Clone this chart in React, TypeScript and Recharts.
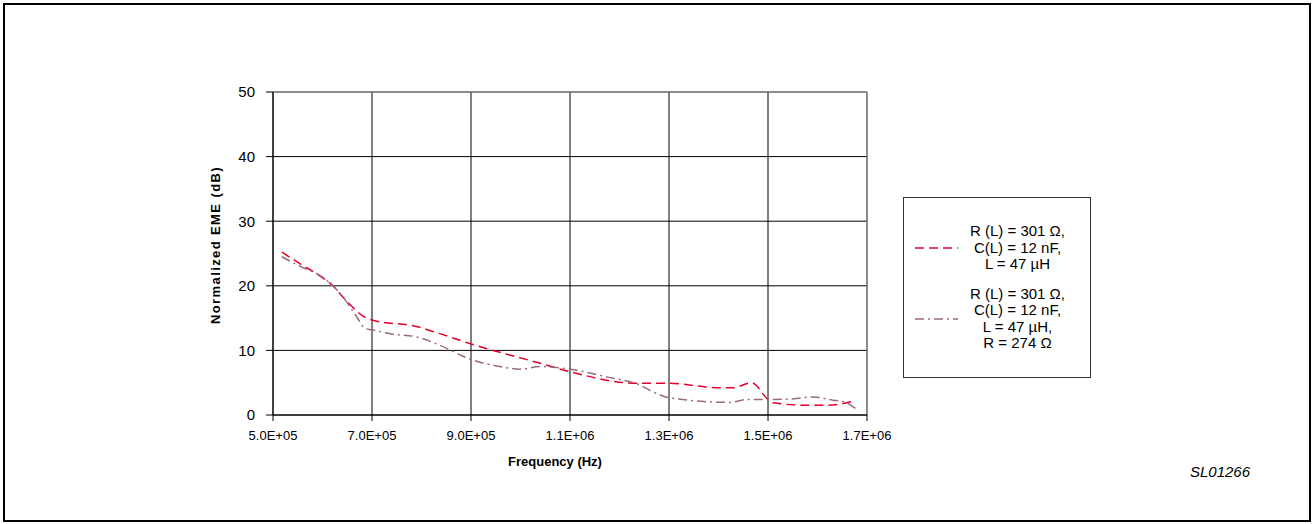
import React from "react";
import {
  CartesianGrid,
  Line,
  LineChart,
  ReferenceLine,
  XAxis,
  YAxis,
} from "recharts";

const FONT = "Arial, 'Liberation Sans', sans-serif";

const xTicks = [500000, 700000, 900000, 1100000, 1300000, 1500000, 1700000];
const yTicks = [0, 10, 20, 30, 40, 50];

// R(L)=301 ohm, C(L)=12 nF, L=47 uH
const freqA = [
  518000, 555000, 599000, 621000, 635000, 662000, 682000, 700000, 790000, 837000,
  900000, 1040000, 1100000, 1235000, 1298000, 1403000, 1429000, 1467000, 1500000,
  1510000, 1578000, 1620000, 1676000,
];
const emeA = [
  25.2, 23.4, 21.3, 20.0, 18.8, 16.6, 15.3, 14.7, 13.7, 12.6, 11.0, 8.0, 6.7, 4.9,
  4.9, 4.2, 4.2, 5.0, 2.4, 1.9, 1.5, 1.5, 2.2,
];

// same + R = 274 ohm
const freqB = [
  518000, 555000, 599000, 621000, 641000, 669000, 686000, 699000, 742000, 783000,
  837000, 878000, 900000, 952000, 999000, 1039000, 1100000, 1174000, 1235000,
  1282000, 1298000, 1423000, 1457000, 1500000, 1551000, 1591000, 1631000, 1651000,
  1681000,
];
const emeB = [
  24.5, 23.0, 21.4, 20.0, 18.3, 15.2, 13.4, 13.2, 12.5, 12.2, 10.8, 9.3, 8.6, 7.6,
  7.1, 7.5, 7.1, 5.9, 4.8, 3.1, 2.7, 1.95, 2.4, 2.4, 2.5, 2.8, 2.3, 2.1, 0.8,
];

const legendA = ["R (L) = 301 Ω,", "C(L) = 12 nF,", "L = 47 µH"];
const legendB = ["R (L) = 301 Ω,", "C(L) = 12 nF,", "L = 47 µH,", "R = 274 Ω"];

const RED = "#e3002a";
const MAUVE = "#9a6b7d";

const seriesA = freqA.map((f, i) => ({ f, v: emeA[i] }));
const seriesB = freqB.map((f, i) => ({ f, v: emeB[i] }));

function sci(v: number) {
  const e = Math.floor(Math.log10(v) + 1e-9);
  const m = (v / Math.pow(10, e)).toFixed(1);
  return `${m}E+${String(e).padStart(2, "0")}`;
}

function LegendBox() {
  const row = (lines: string[], color: string, dash: string) => (
    <div style={{ display: "flex", alignItems: "center", marginBottom: 13 }}>
      <svg width={50} height={10} style={{ marginLeft: 8 }}>
        <line x1={3} y1={5} x2={46} y2={5} stroke={color} strokeWidth={1.5} strokeDasharray={dash} />
      </svg>
      <div style={{ marginLeft: 8, textAlign: "center", lineHeight: "16.5px" }}>
        {lines.map((t) => (
          <div key={t}>{t}</div>
        ))}
      </div>
    </div>
  );
  return (
    <div
      style={{
        position: "absolute",
        left: 903,
        top: 197,
        width: 188,
        height: 181,
        border: "1px solid #333",
        boxSizing: "border-box",
        fontFamily: FONT,
        fontSize: 15,
        color: "#000",
        paddingTop: 25,
      }}
    >
      {row(legendA, RED, "9 5")}
      {row(legendB, MAUVE, "9 4 2 4")}
    </div>
  );
}

export default function App() {
  return (
    <div style={{ position: "absolute", left: 0, top: 0, width: 1313, height: 524, background: "#fff" }}>
      <div
        style={{
          position: "absolute",
          left: 3,
          top: 3,
          width: 1308,
          height: 519,
          border: "2px solid #000",
          boxSizing: "border-box",
        }}
      />
      <div style={{ position: "absolute", left: 0, top: 0 }}>
        <LineChart
          width={1313}
          height={524}
          margin={{ top: 92, right: 446, bottom: 79, left: 213 }}
          style={{ fontFamily: FONT }}
        >
          <CartesianGrid stroke="#000" strokeWidth={1} />
          <XAxis
            dataKey="f"
            type="number"
            domain={[500000, 1700000]}
            ticks={xTicks}
            tickFormatter={sci}
            allowDuplicatedCategory={false}
            height={30}
            stroke="#000"
            tickSize={6}
            tickMargin={10}
            tick={{ fill: "#000", fontSize: 13 }}
          />
          <YAxis
            type="number"
            domain={[0, 50]}
            ticks={yTicks}
            width={60}
            stroke="#000"
            tickSize={7}
            tickMargin={11}
            tick={{ fill: "#000", fontSize: 15 }}
          />
          <ReferenceLine y={50} stroke="#999" />
          <ReferenceLine x={1700000} stroke="#999" />
          <Line
            data={seriesA}
            dataKey="v"
            type="monotone"
            stroke={RED}
            strokeWidth={1.5}
            strokeDasharray="9 5"
            dot={false}
            isAnimationActive={false}
          />
          <Line
            data={seriesB}
            dataKey="v"
            type="monotone"
            stroke={MAUVE}
            strokeWidth={1.5}
            strokeDasharray="9 4 2 4"
            dot={false}
            isAnimationActive={false}
          />
        </LineChart>
      </div>
      <LegendBox />
      <div
        style={{
          position: "absolute",
          left: 215,
          top: 245,
          transform: "translate(-50%, -50%) rotate(-90deg)",
          fontFamily: FONT,
          fontWeight: "bold",
          fontSize: 13,
          letterSpacing: 1.4,
          whiteSpace: "nowrap",
        }}
      >
        Normalized EME (dB)
      </div>
      <div
        style={{
          position: "absolute",
          left: 555,
          top: 461,
          transform: "translate(-50%, -50%)",
          fontFamily: FONT,
          fontWeight: "bold",
          fontSize: 13,
          whiteSpace: "nowrap",
        }}
      >
        Frequency (Hz)
      </div>
      <div
        style={{
          position: "absolute",
          left: 1190,
          top: 463,
          fontFamily: FONT,
          fontStyle: "italic",
          fontSize: 15,
          whiteSpace: "nowrap",
        }}
      >
        SL01266
      </div>
    </div>
  );
}
